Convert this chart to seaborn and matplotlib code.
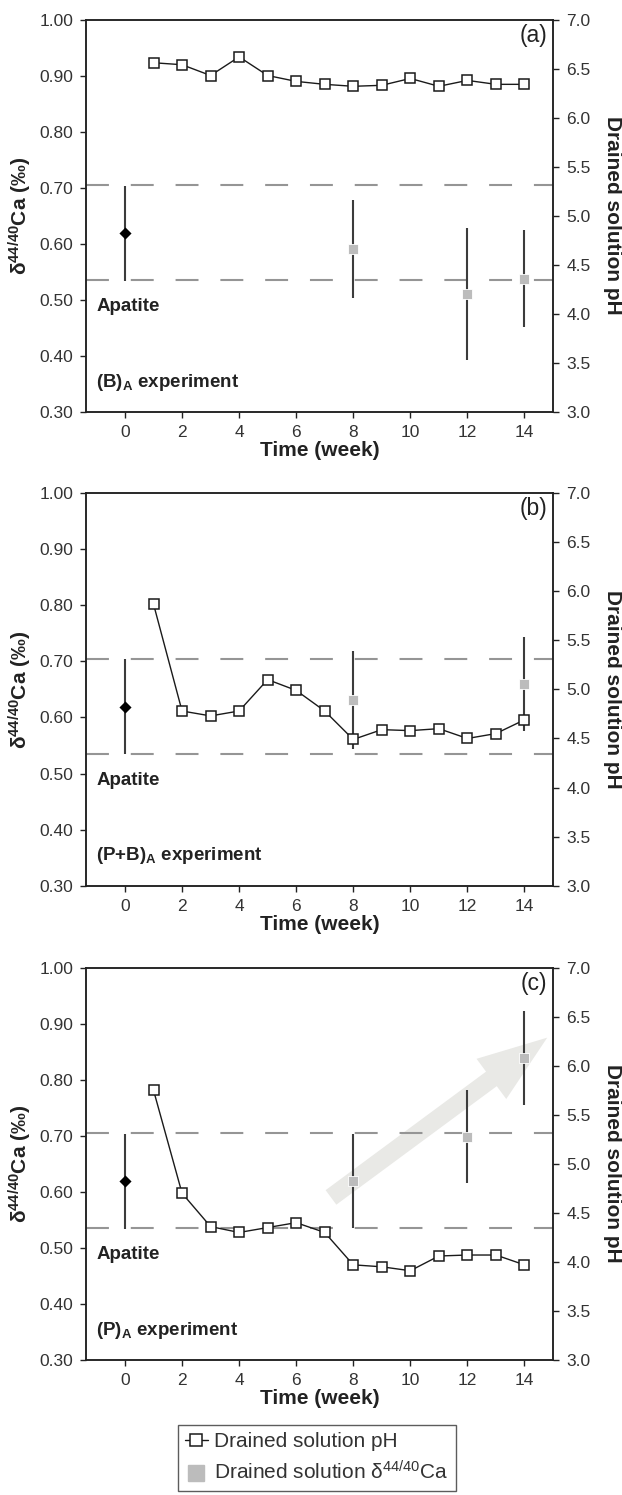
import numpy as np
import pandas as pd
import matplotlib
matplotlib.use("Agg")
import matplotlib.pyplot as plt
from matplotlib.lines import Line2D
import seaborn as sns

# ---------------- data ----------------
weeks_ph = [1, 2, 3, 4, 5, 6, 7, 8, 9, 10, 11, 12, 13, 14]
ph_a = [6.56, 6.54, 6.43, 6.62, 6.43, 6.37, 6.34, 6.32, 6.33, 6.40, 6.32, 6.38, 6.34, 6.34]
ph_b = [5.87, 4.78, 4.73, 4.78, 5.10, 4.99, 4.78, 4.49, 4.59, 4.58, 4.60, 4.50, 4.55, 4.69]
ph_c = [5.75, 4.70, 4.36, 4.30, 4.35, 4.40, 4.30, 3.97, 3.95, 3.91, 4.06, 4.07, 4.07, 3.97]

ca_weeks_a = [8, 12, 14]
ca_a = [0.591, 0.510, 0.538]
ca_err_a = [0.087, 0.118, 0.086]

ca_weeks_b = [8, 14]
ca_b = [0.631, 0.660]
ca_err_b = [0.088, 0.084]

ca_weeks_c = [8, 12, 14]
ca_c = [0.620, 0.698, 0.838]
ca_err_c = [0.084, 0.083, 0.084]

apatite_week = 0
apatite_val = 0.619
apatite_err = 0.085
apatite_range = [0.705, 0.535]

panel_tags = ["(a)", "(b)", "(c)"]
experiments = [r"(B)$_\mathbf{A}$ experiment", r"(P+B)$_\mathbf{A}$ experiment", r"(P)$_\mathbf{A}$ experiment"]

left_ticks = [0.30, 0.40, 0.50, 0.60, 0.70, 0.80, 0.90, 1.00]
right_ticks = [3.0, 3.5, 4.0, 4.5, 5.0, 5.5, 6.0, 6.5, 7.0]
x_ticks = [0, 2, 4, 6, 8, 10, 12, 14]

# ---------------- style ----------------
sns.set_theme(style="ticks")
plt.rcParams["font.family"] = ["Liberation Sans", "DejaVu Sans"]
plt.rcParams["mathtext.fontset"] = "custom"
plt.rcParams["mathtext.rm"] = "Liberation Sans"
plt.rcParams["mathtext.bf"] = "Liberation Sans:bold"
plt.rcParams["mathtext.it"] = "Liberation Sans:italic"
plt.rcParams["axes.edgecolor"] = "#222222"
plt.rcParams["axes.linewidth"] = 1.1

fig = plt.figure(figsize=(6.22, 14.95), dpi=100)

left, width, height = 0.139, 0.750, 0.2625
bottoms = [0.7244, 0.4076, 0.0903]

ph_sets = [ph_a, ph_b, ph_c]
ca_sets = [(ca_weeks_a, ca_a, ca_err_a), (ca_weeks_b, ca_b, ca_err_b), (ca_weeks_c, ca_c, ca_err_c)]

gray = "#bcbcbc"
ebar = "#3c3c3c"
dash_col = "#959595"

for i in range(3):
    ax = fig.add_axes([left, bottoms[i], width, height])
    ax2 = ax.twinx()
    ax.set_xlim(-1.35, 15.0)
    ax.set_ylim(0.30, 1.00)
    ax2.set_ylim(3.0, 7.0)

    # apatite range dashed lines
    for yv in apatite_range:
        ax.axhline(yv, color=dash_col, lw=1.5, dashes=(11, 10.5), zorder=1)

    # arrow in panel c
    if i == 2:
        ax.annotate("", xy=(14.8, 0.875), xytext=(7.22, 0.590),
                    arrowprops=dict(arrowstyle="simple,head_length=5.0,head_width=3.6,tail_width=1.3",
                                    fc="#e9e9e6", ec="none", shrinkA=0, shrinkB=0,
                                    mutation_scale=10), zorder=0.5)

    # apatite point
    ax.errorbar([apatite_week], [apatite_val], yerr=[apatite_err], fmt="none",
                ecolor=ebar, elinewidth=1.5, capsize=0, zorder=3)
    sns.scatterplot(x=[apatite_week], y=[apatite_val], ax=ax, marker="D", color="black",
                    s=38, edgecolor="black", linewidth=0, zorder=4, legend=False)

    # drained solution Ca
    wk, vals, errs = ca_sets[i]
    ax.errorbar(wk, vals, yerr=errs, fmt="none", ecolor=ebar, elinewidth=1.5, capsize=0, zorder=3)
    sns.scatterplot(x=wk, y=vals, ax=ax, marker="s", color=gray, s=55,
                    edgecolor="white", linewidth=0.6, zorder=4, legend=False)

    # pH line
    df = pd.DataFrame({"week": weeks_ph, "pH": ph_sets[i]})
    sns.lineplot(data=df, x="week", y="pH", ax=ax2, color="#1a1a1a", lw=1.0,
                 marker="s", markersize=6.5, markerfacecolor="white",
                 markeredgecolor="#1a1a1a", markeredgewidth=1.1, legend=False)

    # ticks
    ax.set_xticks(x_ticks)
    ax.set_yticks(left_ticks)
    ax.set_yticklabels([f"{v:.2f}" for v in left_ticks])
    ax2.set_yticks(right_ticks)
    ax2.set_yticklabels([f"{v:.1f}" for v in right_ticks])
    for a in (ax, ax2):
        a.tick_params(direction="out", length=4.5, width=1.0, labelsize=12.5, pad=5,
                      colors="#222222", labelcolor="#333333")
    ax2.set_xticks(x_ticks)

    # labels
    ax.set_xlabel("Time (week)", fontsize=15, fontweight="bold", color="#222222")
    ax.xaxis.set_label_coords(0.5, -0.074)
    ax.set_ylabel(r"δ$^{\mathbf{44/40}}$Ca (‰)", fontsize=15, fontweight="bold", color="#222222")
    ax.yaxis.set_label_coords(-0.113, 0.5)
    ax2.set_ylabel("Drained solution pH", fontsize=15, fontweight="bold", color="#222222",
                   rotation=270, va="center", ha="center")
    ax2.yaxis.set_label_coords(1.128, 0.5)

    # texts
    ax.text(14.8, 0.972, panel_tags[i], ha="right", va="center", fontsize=16.5, color="#222222")
    ax.text(-1.0, 0.488, "Apatite", ha="left", va="center", fontsize=13.5,
            fontweight="bold", color="#222222")
    ax.text(-1.0, 0.353, experiments[i], ha="left", va="center", fontsize=13.5,
            fontweight="bold", color="#222222")

    for s in ("top", "right", "left", "bottom"):
        ax.spines[s].set_visible(True)
        ax2.spines[s].set_visible(True)

# legend
handles = [
    Line2D([], [], color="#1a1a1a", lw=1.0, marker="s", markersize=9,
           markerfacecolor="white", markeredgecolor="#1a1a1a", markeredgewidth=1.1),
    Line2D([], [], color=gray, lw=0, marker="s", markersize=11, markeredgecolor=gray),
]
labels = ["Drained solution pH", r"Drained solution δ$^{44/40}$Ca"]
leg = fig.legend(handles, labels, loc="upper center", bbox_to_anchor=(0.509, 0.0468),
                 frameon=True, fancybox=False, edgecolor="#333333", fontsize=15,
                 handlelength=1.1, handletextpad=0.3, labelspacing=0.45,
                 borderpad=0.35, borderaxespad=0)
leg.get_frame().set_linewidth(1.0)
for t in leg.get_texts():
    t.set_color("#333333")

fig.savefig("out.png", dpi=100)
